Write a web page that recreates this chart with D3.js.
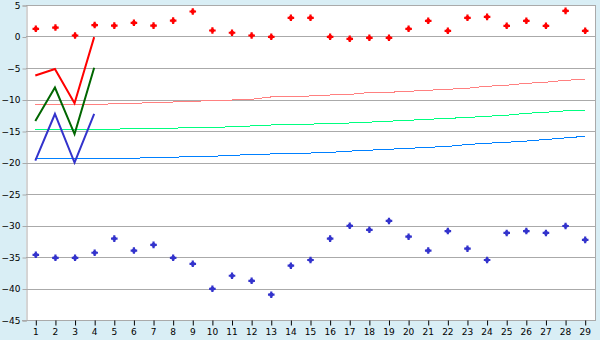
<!DOCTYPE html>
<html>
<head>
<meta charset="utf-8">
<script src="https://cdn.jsdelivr.net/npm/d3@7"></script>
<style>
    html, body { margin: 0; padding: 0; background: #d9eef5; }
    svg { display: block; font-family: "DejaVu Sans", Verdana, sans-serif; }
</style>
</head>
<body>
<div id="chart"></div>
<script>
// categories (x axis)
const days = [1, 2, 3, 4, 5, 6, 7, 8, 9, 10, 11, 12, 13, 14, 15, 16, 17, 18, 19, 20,
    21, 22, 23, 24, 25, 26, 27, 28, 29];
const yTicks = [5, 0, -5, -10, -15, -20, -25, -30, -35, -40, -45];

// scatter series
const redDots = [1.3, 1.5, 0.24, 1.9, 1.8, 2.25, 1.8, 2.6, 4.05, 1.03, 0.67, 0.24, 0.03, 3.05,
    3.05, 0.03, -0.29, -0.13, -0.13, 1.3, 2.57, 0.98, 3.05, 3.2, 1.78, 2.57, 1.78, 4.15, 0.98];
const blueDots = [-34.57, -35.05, -35.05, -34.25, -32.0, -33.9, -33.0, -35.05, -36.0, -39.97,
    -37.9, -38.7, -40.9, -36.3, -35.4, -32.0, -29.97, -30.6, -29.2, -31.7, -33.9, -30.8, -33.6,
    -35.4, -31.1, -30.8, -31.1, -30.0, -32.2];

// thick lines, first four days only
const redThick = [-6.2, -5.16, -10.6, -0.1];
const greenThick = [-13.4, -8.1, -15.5, -4.95];
const blueThick = [-19.7, -12.3, -20.0, -12.3];

// thin trend lines
const redTrend = [-10.87, -10.87, -10.8, -10.75, -10.7, -10.6, -10.5, -10.4, -10.3, -10.16,
    -10.08, -9.97, -9.6, -9.6, -9.44, -9.29, -9.2, -8.9, -8.86, -8.7, -8.54, -8.38, -8.22,
    -7.9, -7.75, -7.43, -7.27, -6.95, -6.8];
const greenTrend = [-14.73, -14.73, -14.73, -14.73, -14.7, -14.65, -14.6, -14.55, -14.45, -14.4,
    -14.35, -14.2, -14.05, -14.0, -13.9, -13.85, -13.73, -13.6, -13.45, -13.3, -13.14, -13.0,
    -12.85, -12.67, -12.5, -12.2, -12.03, -11.8, -11.7];
const blueTrend = [-19.33, -19.33, -19.33, -19.33, -19.33, -19.33, -19.2, -19.17, -19.05, -19.0,
    -18.9, -18.7, -18.65, -18.6, -18.5, -18.4, -18.2, -18.05, -17.9, -17.75, -17.6, -17.45,
    -17.15, -16.95, -16.8, -16.6, -16.35, -16.1, -15.85];

const width = 600, height = 340;
const plot = { left: 26, right: 595, top: 5, bottom: 320 };

const svg = d3.select("#chart")
    .append("svg")
    .attr("width", width)
    .attr("height", height);

let x = d3.scalePoint().domain(days).range([plot.left - 0.5, plot.right - 0.5]).padding(0.5);
let y = d3.scaleLinear().domain([-45, 5]).range([plot.bottom, plot.top]);

// plot background
svg.append("rect")
    .attr("x", plot.left)
    .attr("y", plot.top)
    .attr("width", plot.right - plot.left)
    .attr("height", plot.bottom - plot.top)
    .attr("fill", "#ffffff");

// horizontal grid
svg.append("g")
    .selectAll("line")
    .data(yTicks)
    .join("line")
    .attr("x1", plot.left)
    .attr("x2", plot.right)
    .attr("y1", d => Math.round(y(d)) + 0.5)
    .attr("y2", d => Math.round(y(d)) + 0.5)
    .attr("stroke", "#aaaaaa");

// right border
svg.append("line")
    .attr("x1", plot.right + 0.5).attr("x2", plot.right + 0.5)
    .attr("y1", plot.top).attr("y2", plot.bottom + 1)
    .attr("stroke", "#aaaaaa");

// y axis
let gY = svg.append("g")
    .attr("transform", "translate(" + (plot.left + 0.5) + ",0.5)")
    .call(d3.axisLeft(y).tickValues(yTicks).tickSize(4).tickPadding(2));
gY.selectAll("path, line").attr("stroke", "#aaaaaa");
gY.selectAll("text")
    .attr("font-size", "9px")
    .attr("font-family", "DejaVu Sans, sans-serif")
    .attr("fill", "#000");

// x axis
let gX = svg.append("g")
    .attr("transform", "translate(0," + (plot.bottom + 0.5) + ")")
    .call(d3.axisBottom(x).tickSize(5).tickSizeOuter(0).tickPadding(3));
gX.select(".domain").attr("d", "M" + (plot.left - 4) + ",0H" + (plot.right + 1));
gX.selectAll("path, line").attr("stroke", "#aaaaaa");
gX.selectAll(".tick line").attr("stroke", "#000").attr("transform", "translate(0.5,0)");
gX.selectAll("text")
    .attr("font-size", "9px")
    .attr("font-family", "DejaVu Sans, sans-serif")
    .attr("fill", "#000");

let line = d3.line()
    .x((d, i) => x(days[i]))
    .y(d => y(d));

// thin trend lines, aliased like the original
[[redTrend, "#ff8080"], [greenTrend, "#00ff80"], [blueTrend, "#0080ff"]].forEach(([data, color]) => {
    svg.append("path")
        .datum(data)
        .attr("d", line)
        .attr("fill", "none")
        .attr("stroke", color)
        .attr("stroke-width", 1)
        .attr("shape-rendering", "crispEdges");
});

// thick lines
[[redThick, "#ff0000"], [greenThick, "#006600"], [blueThick, "#3333cc"]].forEach(([data, color]) => {
    svg.append("path")
        .datum(data)
        .attr("d", line)
        .attr("fill", "none")
        .attr("stroke", color)
        .attr("stroke-width", 2);
});

// markers: little plus with a filled centre
let cross = d3.symbol().type(d3.symbolCross).size(24);
let square = d3.symbol().type(d3.symbolSquare).size(12);

[[redDots, "#ff0000"], [blueDots, "#3333cc"]].forEach(([data, color]) => {
    let g = svg.append("g");
    let pts = g.selectAll("g")
        .data(data)
        .join("g")
        .attr("transform", (d, i) => "translate(" + (x(days[i]) + 0.5) + "," + (y(d) + 0.5) + ")");
    pts.append("path").attr("d", cross()).attr("fill", color);
    pts.append("path").attr("d", square()).attr("fill", color);
});
</script>
</body>
</html>
